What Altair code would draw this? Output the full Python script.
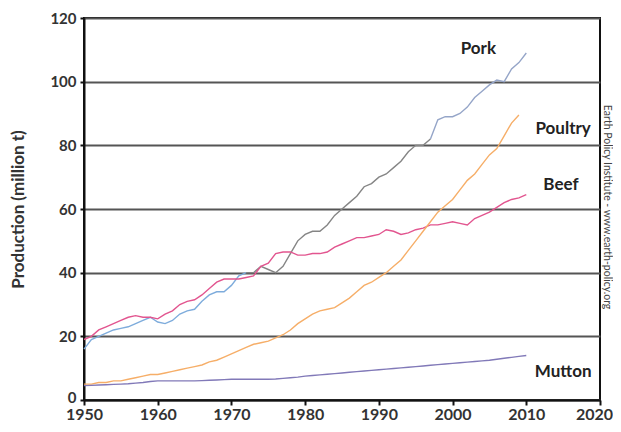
import altair as alt
import pandas as pd

years = list(range(1950, 2011))

pork = [16, 19, 20, 21, 22, 22.5, 23, 24, 25, 26,
        24.5, 24, 25, 27, 28, 28.5, 31, 33, 34, 34,
        36, 39, 40, 40, 42, 41, 40, 42, 46, 50,
        52, 53, 53, 55, 58, 60, 62, 64, 67, 68,
        70, 71, 73, 75, 78, 80, 80, 82, 88, 89,
        89, 90, 92, 95, 97, 99, 100.5, 100, 104, 106, 109]

beef = [19, 20, 22, 23, 24, 25, 26, 26.5, 26, 26,
        25.5, 27, 28, 30, 31, 31.5, 33, 35, 37, 38,
        38, 38, 38.5, 39, 42, 43, 46, 46.5, 46.5, 45.5,
        45.5, 46, 46, 46.5, 48, 49, 50, 51, 51, 51.5,
        52, 53.5, 53, 52, 52.5, 53.5, 54, 55, 55, 55.5,
        56, 55.5, 55, 57, 58, 59, 60.5, 62, 63, 63.5, 64.5]

poultry = [5, 5, 5.5, 5.5, 6, 6, 6.5, 7, 7.5, 8,
           8, 8.5, 9, 9.5, 10, 10.5, 11, 12, 12.5, 13.5,
           14.5, 15.5, 16.5, 17.5, 18, 18.5, 19.5, 20.5, 22, 24,
           25.5, 27, 28, 28.5, 29, 30.5, 32, 34, 36, 37,
           38.5, 40, 42, 44, 47, 50, 53, 56, 59, 61,
           63, 66, 69, 71, 74, 77, 79, 83, 87, 89.5]

mutton = [4.5, 4.6, 4.7, 4.8, 4.9, 5, 5.1, 5.3, 5.5, 5.8,
          6, 6, 6, 6, 6, 6, 6.1, 6.2, 6.3, 6.4,
          6.5, 6.5, 6.5, 6.5, 6.5, 6.5, 6.6, 6.8, 7, 7.2,
          7.5, 7.7, 7.9, 8.1, 8.3, 8.5, 8.7, 8.9, 9.1, 9.3,
          9.5, 9.7, 9.9, 10.1, 10.3, 10.5, 10.7, 10.9, 11.1, 11.3,
          11.5, 11.7, 11.9, 12.1, 12.3, 12.5, 12.8, 13.1, 13.4, 13.7, 14]

# pork line colour changes along its length (three shaded stretches)
pork_breaks = [(1950, 1972, "pork_a"), (1972, 1997, "pork_b"), (1997, 2010, "pork_c")]

series_keys = ["pork_a", "pork_b", "pork_c", "beef", "poultry", "mutton"]
series_colors = ["#7eacdc", "#858585", "#95a5c8", "#e2558f", "#f6ae68", "#8179b8"]

label_text = ["Pork", "Poultry", "Beef", "Mutton"]
label_year = [2003.5, 2015.0, 2014.7, 2015.0]
label_val = [110.3, 85, 67.5, 8.9]

credit_text = ["Earth Policy Institute - www.earth-policy.org"]
credit_year = [2020.95]
credit_val = [60.6]

rows = []
for a, b, key in pork_breaks:
    for y, v in zip(years, pork):
        if a <= y <= b:
            rows.append({"year": y, "value": v, "series": key})
for key, vals in [("beef", beef), ("poultry", poultry), ("mutton", mutton)]:
    for y, v in zip(years, vals):
        rows.append({"year": y, "value": v, "series": key})
df = pd.DataFrame(rows)

labels_df = pd.DataFrame({"text": label_text, "year": label_year, "value": label_val})
credit_df = pd.DataFrame({"text": credit_text, "year": credit_year, "value": credit_val})

xscale = alt.Scale(domain=[1950, 2020], nice=False, zero=False)
yscale = alt.Scale(domain=[0, 120], nice=False)

FONT = "Lato"

lines = alt.Chart(df).mark_line(strokeWidth=1.4, clip=False).encode(
    x=alt.X("year:Q", scale=xscale,
            axis=alt.Axis(values=[1950, 1960, 1970, 1980, 1990, 2000, 2010, 2020],
                          format="d", title=None, grid=False,
                          labelFontSize=16, labelFontWeight="bold", labelColor="#333",
                          labelFont=FONT, domainColor="#111", domainWidth=2,
                          tickColor="#111", tickWidth=2, tickSize=5, labelPadding=1,
                          labelOffset=alt.expr("datum.value == 2020 ? -6 : 0"),
                          labelFlush=False)),
    y=alt.Y("value:Q", scale=yscale,
            axis=alt.Axis(values=[0, 20, 40, 60, 80, 100, 120], title="Production (million t)",
                          titleFontSize=17, titleFontWeight="bold", titleColor="#333",
                          titleFont=FONT, titlePadding=22,
                          labelFontSize=15, labelFontWeight="bold", labelColor="#333",
                          labelFont=FONT, grid=True, gridColor="#555", gridWidth=2,
                          domainColor="#111", domainWidth=2, tickColor="#111",
                          tickWidth=2, tickSize=4, labelPadding=4, labelFlush=False,
                          labelOffset=alt.expr("datum.value == 0 ? -3 : 0"))),
    color=alt.Color("series:N", scale=alt.Scale(domain=series_keys, range=series_colors),
                    legend=None),
    detail="series:N",
)

labels = alt.Chart(labels_df).mark_text(
    font=FONT, fontSize=17, fontWeight="bold", color="#222", clip=False
).encode(x=alt.X("year:Q", scale=xscale), y=alt.Y("value:Q", scale=yscale), text="text:N")

credit = alt.Chart(credit_df).mark_text(
    font=FONT, fontSize=10.5, color="#444", angle=90, clip=False
).encode(x=alt.X("year:Q", scale=xscale), y=alt.Y("value:Q", scale=yscale), text="text:N")

chart = alt.layer(lines, labels, credit).properties(
    width=516, height=382,
    autosize=alt.AutoSizeParams(type="none"),
    padding={"left": 76, "top": 10, "right": 13, "bottom": 24},
    background="white",
).configure_view(stroke="#111", strokeWidth=2)

chart.save("out.html", embed_options={"renderer": "svg", "actions": False})
